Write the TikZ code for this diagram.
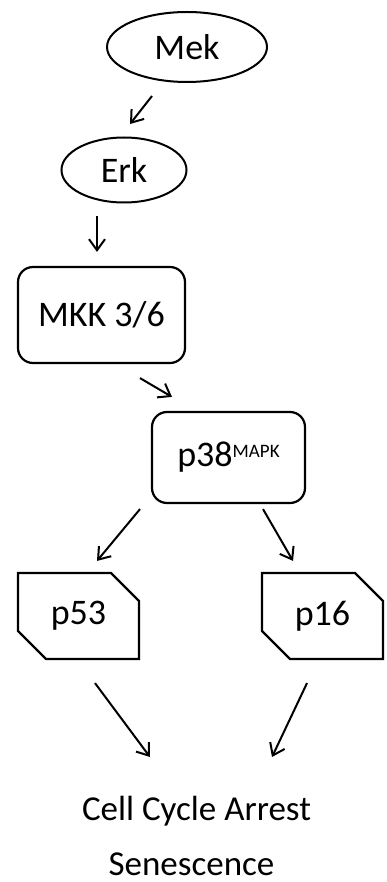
\documentclass[tikz,border=0pt]{standalone}
\usepackage{fontspec}
\setmainfont{Carlito}
\usetikzlibrary{shapes.geometric, shapes.misc, arrows.meta, calc}

\begin{document}
\begin{tikzpicture}[x=0.5pt, y=-0.5pt,
    oval/.style={draw, ellipse, line width=1pt, inner sep=0pt, font=\fontsize{18}{20}\selectfont},
    rbox/.style={draw, rounded corners=7.5pt, line width=1.1pt, inner sep=0pt, font=\fontsize{18}{20}\selectfont},
    cbox/.style={draw, chamfered rectangle, chamfered rectangle corners={north east, south west},
        chamfered rectangle xsep=7pt, chamfered rectangle ysep=7pt, line width=1.1pt, inner sep=0pt,
        font=\fontsize{18}{20}\selectfont},
    arr/.style={-{Straight Barb[length=5.5pt, width=8pt]}, line width=1pt},
    outcome/.style={font=\fontsize{17.5}{20}\selectfont, inner sep=0pt, anchor=base}]
            \useasboundingbox (0,0) rectangle (386,882);
            \node[oval, minimum width=80pt, minimum height=35pt] (mek) at (187,47) {Mek};
            \node[oval, minimum width=62.5pt, minimum height=32.5pt] (erk) at (124,170) {Erk};
            \node[rbox, minimum width=83.5pt, minimum height=48pt] (mkk) at (101.5,315) {MKK 3/6};
            \node[rbox, minimum width=76.5pt, minimum height=45.5pt] (p38) at (228.5,457.5)
                {p38\raisebox{4.5pt}{\fontsize{9.5}{10}\selectfont MAPK}};
            \node[cbox, minimum width=60.5pt, minimum height=43pt] (p53) at (78.5,616) {p53};
            \node[cbox, minimum width=60.5pt, minimum height=43pt] (p16) at (322.5,616) {p16};
            \node[outcome] (arrest) at (196.5,820) {Cell Cycle Arrest};
            \node[outcome] (senes) at (191.5,875) {Senescence};
            % arrows between the steps
            \draw[arr] ($(mek.south)+(-35,13)$) -- ($(erk.north)+(6,-12.5)$);
            \draw[arr] ($(erk.south)+(-27,12.5)$) -- ($(mkk.north)+(-4.5,-14)$);
            \draw[arr] ($(mkk.south)+(38.5,14)$) -- ($(p38.north)+(-56.5,-14)$);
            \draw[arr] ($(p38.south)+(-88.5,5)$) -- ($(p53.north)+(18.5,-11)$);
            \draw[arr] ($(p38.south)+(34.5,5)$) -- ($(p16.north)+(-29.5,-11)$);
            \draw[arr] ($(p53.south)+(16.5,23)$) -- ($(arrest.base)+(-46.5,-63)$);
            \draw[arr] ($(p16.south)+(-15.5,23)$) -- ($(arrest.base)+(75.5,-63)$);
        \end{tikzpicture}
\end{document}
